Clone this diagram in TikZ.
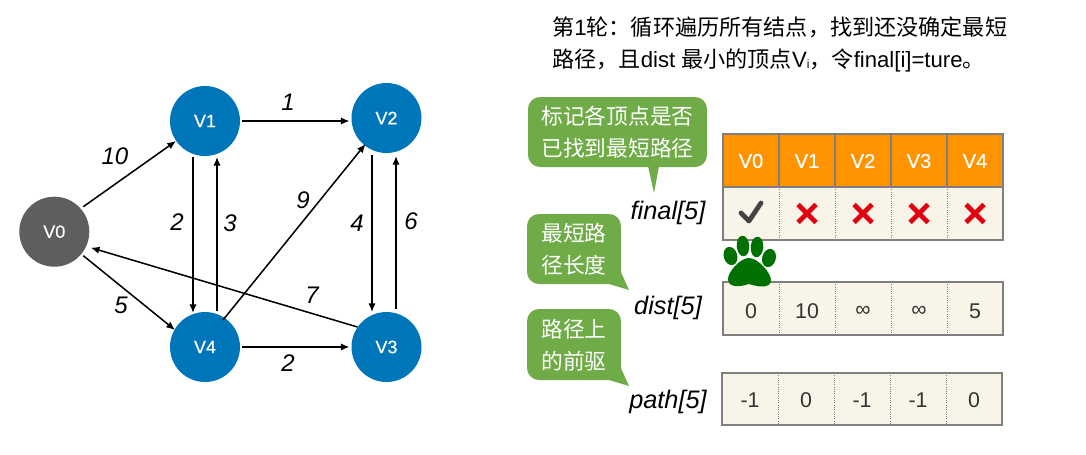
\documentclass[tikz,border=0pt]{standalone}
\usepackage{fontspec}
\setmainfont{Liberation Sans}
\newfontfamily\cjk{Noto Sans CJK SC}
\newfontface\medf{Liberation Sans}[FakeBold=0.35]
\usetikzlibrary{arrows.meta,calc}
\definecolor{vblue}{HTML}{0076BA}
\definecolor{vgray}{HTML}{5E5E5E}
\definecolor{bub}{HTML}{6FAC47}
\definecolor{hdr}{HTML}{FF9300}
\definecolor{cream}{HTML}{F8F5E8}
\definecolor{rule}{HTML}{7F7F7F}
\definecolor{pawc}{HTML}{007000}
\definecolor{xred}{HTML}{E3000F}
\definecolor{chk}{HTML}{444444}
\tikzset{
  px/.style={x=0.75pt,y=-0.75pt},
  vert/.style={circle,minimum size=52.5pt,inner sep=0pt,outer sep=0pt,fill=vblue,text=white,font=\medf\fontsize{13.5}{16}\selectfont},
  edge/.style={draw=black,line width=1.15pt,-{Latex[length=6.5pt,width=5.5pt]}},
  wt/.style={font=\fontsize{18}{20}\selectfont\itshape,inner sep=0pt},
  arr/.style={font=\fontsize{19}{21}\selectfont\itshape,inner sep=0pt},
  bubtext/.style={text=white,font=\cjk\fontsize{16.3}{24}\selectfont,align=center,inner sep=0pt},
  hcell/.style={font=\medf\fontsize{15}{18}\selectfont,text=white,inner sep=0pt},
  vcell/.style={font=\fontsize{16}{18}\selectfont,text=black!80,inner sep=0pt},
  frame/.style={draw=rule,line width=1pt},
  sep/.style={draw=rule,line width=0.7pt,densely dotted},
  hsep/.style={draw=rule,line width=1pt},
  xmark/.style={draw=xred,line width=3.6pt},
}
\begin{document}
\begin{tikzpicture}[px]
\useasboundingbox (0,0) rectangle (1086,454);
% title
\node[anchor=base west,inner sep=0pt,font=\fontsize{16.6}{20}\selectfont] (t1) at (552,35) {{\cjk 第}1{\cjk 轮：循环遍历所有结点，找到还没确定最短}};
\node[anchor=base west,inner sep=0pt,font=\fontsize{16.6}{20}\selectfont] (t2) at (552,67) {{\cjk 路径，且}dist {\cjk 最小的顶点}V\raisebox{-1pt}{\fontsize{9}{9}\selectfont i}{\cjk ，令}final[i]=ture{\cjk 。}};
% graph
\node[vert,fill=vgray] (v0) at (54.3,231.7) {V0};
\node[vert] (v1) at (205,121) {V1};
\node[vert] (v2) at (386.5,118) {V2};
\node[vert] (v3) at (386.5,347) {V3};
\node[vert] (v4) at (205,347) {V4};
\draw[edge] ($(v0)+(29,-25)$) -- ($(v1)+(-29,20)$);
\draw[edge] ($(v0)+(29,24)$) -- ($(v4)+(-30,-17)$);
\draw[edge] ($(v1)+(-12,36)$) -- ($(v4)+(-12,-34)$);
\draw[edge] ($(v4)+(12,-36)$) -- ($(v1)+(12,36)$);
\draw[edge] ($(v1)+(37,0)$) -- ($(v2)+(-37,3)$);
\draw[edge] ($(v4)+(37,0)$) -- ($(v3)+(-37,0)$);
\draw[edge] ($(v2)+(-14.5,37)$) -- ($(v3)+(-14.5,-35)$);
\draw[edge] ($(v3)+(9.5,-38)$) -- ($(v2)+(9.5,38)$);
\draw[edge] ($(v4)+(18,-27)$) -- ($(v2)+(-21,26)$);
\draw[edge] ($(v3)+(-29,-20)$) -- ($(v0)+(36.5,16)$);
\node[wt] (w10) at (115,156) {10};
\node[wt] (w5) at (121,305) {5};
\node[wt] (w2a) at (177,222) {2};
\node[wt] (w3) at (230,223) {3};
\node[wt] (w1) at (288,102) {1};
\node[wt] (w9) at (303,200) {9};
\node[wt] (w4) at (357,223) {4};
\node[wt] (w6) at (411,221) {6};
\node[wt] (w7) at (312,295) {7};
\node[wt] (w2b) at (288,363) {2};
% bubbles
\fill[bub,rounded corners=9pt] (528,97) -- (707,97) -- (707,167) -- (528,167) -- cycle;
\fill[bub] (648,166) -- (654,193) -- (659,166) -- cycle;
\fill[bub,rounded corners=9pt] (527,214) -- (621,214) -- (621,284) -- (527,284) -- cycle;
\fill[bub] (609,284) -- (629,290) -- (620,270) -- cycle;
\fill[bub,rounded corners=9pt] (527,309) -- (621,309) -- (621,380) -- (527,380) -- cycle;
\fill[bub] (609,380) -- (629,386) -- (620,366) -- cycle;
\node[bubtext] (b1a) at (617.5,116) {标记各顶点是否};
\node[bubtext] (b1b) at (617.5,148) {已找到最短路径};
\node[bubtext] (b2a) at (574,233) {最短路};
\node[bubtext] (b2b) at (574,265) {径长度};
\node[bubtext] (b3a) at (574,329) {路径上};
\node[bubtext] (b3b) at (574,361) {的前驱};
% array names
\node[arr] (nf) at (668,213) {final[5]};
\node[arr] (nd) at (668,308) {dist[5]};
\node[arr] (np) at (668,402) {path[5]};
% final table
\fill[hdr] (723,134) rectangle (1003,187);
\fill[cream] (723,187) rectangle (1003,240);
\foreach \x in {779,835,891,947}{
  \draw[hsep] (\x,134) -- (\x,187);
  \draw[sep] (\x,187) -- (\x,240);
}
\draw[hsep] (723,187) -- (1003,187);
\draw[frame] (723,134) rectangle (1003,240);
\node[hcell] (h0) at (751,161) {V0};
\node[hcell] (h1) at (807,161) {V1};
\node[hcell] (h2) at (863,161) {V2};
\node[hcell] (h3) at (919,161) {V3};
\node[hcell] (h4) at (975,161) {V4};
\draw[chk,line width=3.6pt,line cap=round,line join=round] (741,213) -- (749,221) -- (761,203);
\foreach \x in {807,863,919,975}{
  \draw[xmark] (\x-9,204.5) -- (\x+9,222.5);
  \draw[xmark] (\x+9,204.5) -- (\x-9,222.5);
}
% dist table
\fill[cream] (723,282) rectangle (1003,335);
\foreach \x in {779,835,891,947}{\draw[sep] (\x,282) -- (\x,335);}
\draw[frame] (723,282) rectangle (1003,335);
\node[vcell] (d0) at (751,311) {0};
\node[vcell] (d1) at (807,311) {10};
\node[vcell] (d2) at (863,311) {∞};
\node[vcell] (d3) at (919,311) {∞};
\node[vcell] (d4) at (975,311) {5};
% path table
\fill[cream] (722,373) rectangle (1002,425);
\foreach \x in {778,834,890,946}{\draw[sep] (\x,373) -- (\x,425);}
\draw[frame] (722,373) rectangle (1002,425);
\node[vcell] (p0) at (750,400) {-1};
\node[vcell] (p1) at (806,400) {0};
\node[vcell] (p2) at (862,400) {-1};
\node[vcell] (p3) at (918,400) {-1};
\node[vcell] (p4) at (974,400) {0};
% paw
\fill[pawc,rotate around={15:(730.5,256)}] (730.5,256) ellipse (6.8 and 9.3);
\fill[pawc,rotate around={5:(743,246)}] (743,246) ellipse (6.3 and 10.3);
\fill[pawc,rotate around={-5:(757,247)}] (757,247) ellipse (6.3 and 10.3);
\fill[pawc,rotate around={-15:(769,258)}] (769,258) ellipse (6.8 and 9.3);
\fill[pawc] (749,258) .. controls (758,258) and (771,273) .. (771,280) .. controls (771,289) and (758,287) .. (749,284) .. controls (740,287) and (728,288) .. (728,279) .. controls (728,272) and (740,258) .. (749,258) -- cycle;
\end{tikzpicture}
\end{document}
